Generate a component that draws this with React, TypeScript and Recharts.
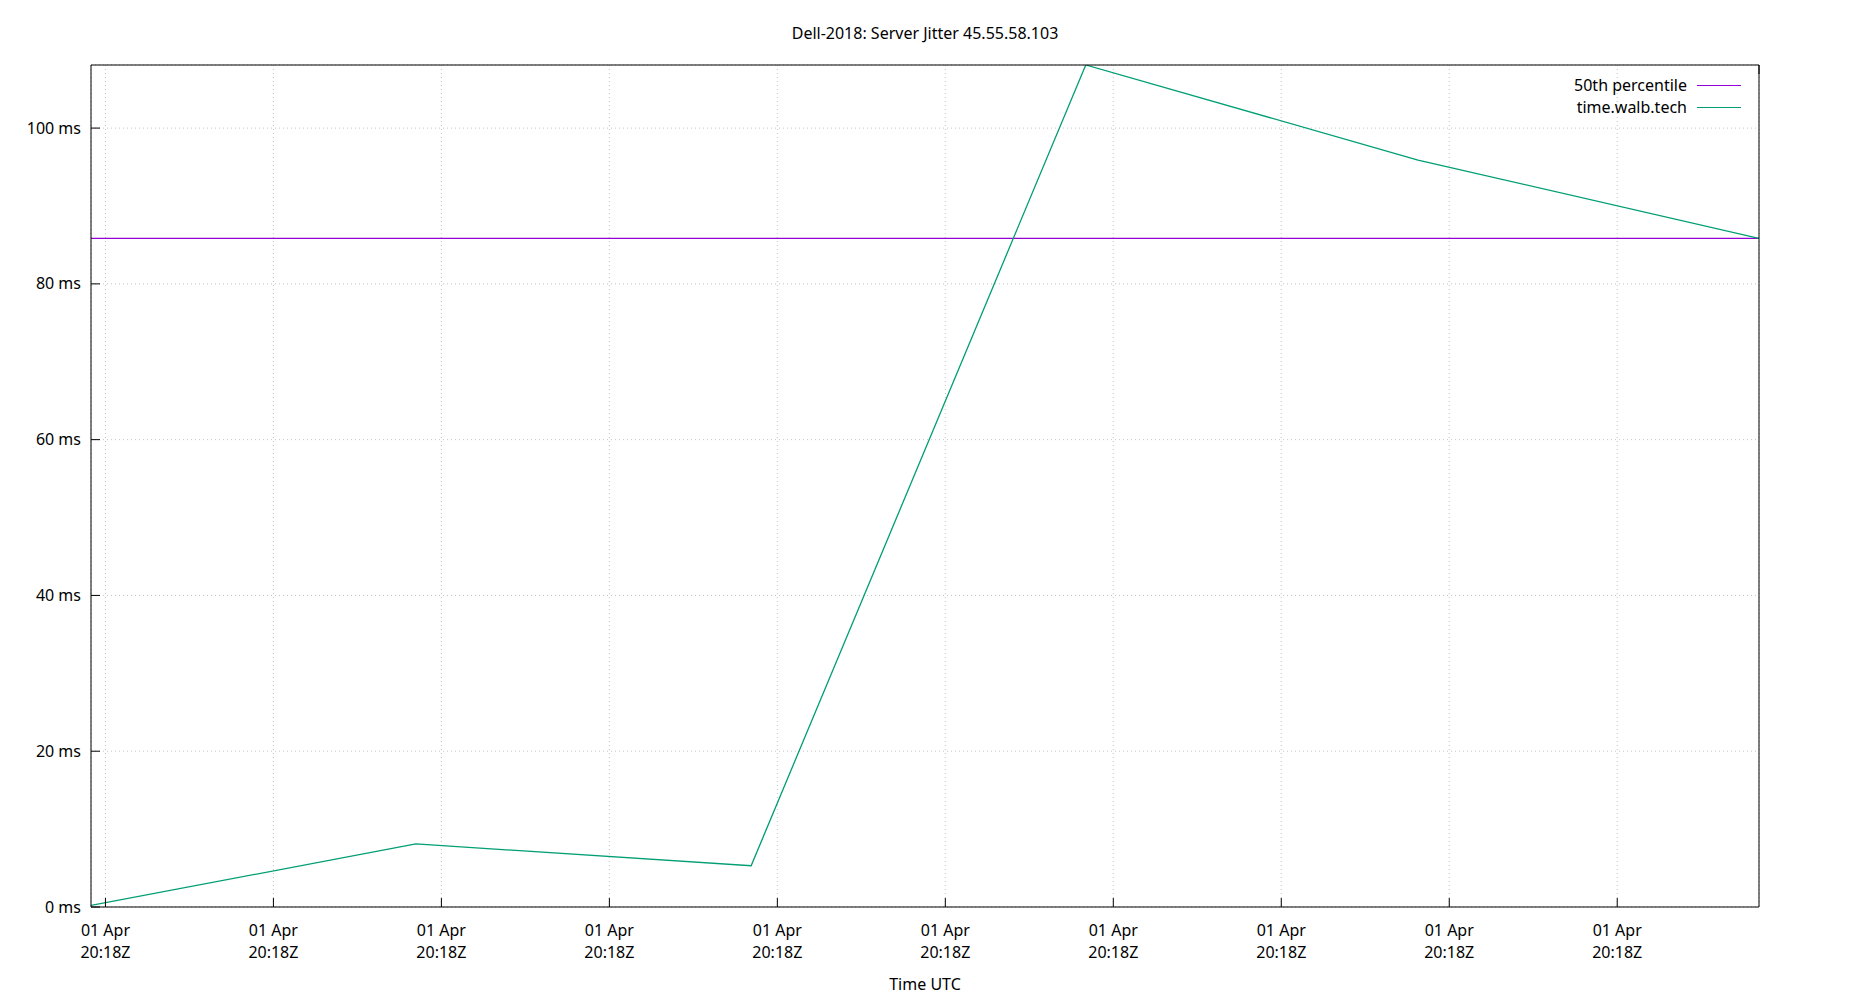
import { CartesianGrid, Line, LineChart, XAxis, YAxis } from 'recharts'

// seconds after 20:18:00Z on 01 Apr
const times = [4.57, 14.24, 24.22, 34.18, 44.07, 54.22]
const jitter = [0.2, 8.1, 5.3, 108.1, 95.9, 85.85]
const p50 = 85.85

const xTicks = [5, 10, 15, 20, 25, 30, 35, 40, 45, 50]
const yTicks = [0, 20, 40, 60, 80, 100]
const yMax = 108.1

const seriesNames = ['50th percentile', 'time.walb.tech']
const seriesColors = ['#9400d3', '#009e73']

const baseTime = Date.UTC(2019, 3, 1, 20, 18, 0)
const months = ['Jan', 'Feb', 'Mar', 'Apr', 'May', 'Jun', 'Jul', 'Aug', 'Sep', 'Oct', 'Nov', 'Dec']
const pad = (n: number) => String(n).padStart(2, '0')

const chartData = times.map((t, i) => ({ t, value: jitter[i], p50 }))
const xDomain = [times[0], times[times.length - 1]]

const font = '"Noto Sans", sans-serif'
const TICK = 9

function formatTime(s: number) {
  const d = new Date(baseTime + s * 1000)
  return [
    `${pad(d.getUTCDate())} ${months[d.getUTCMonth()]}`,
    `${pad(d.getUTCHours())}:${pad(d.getUTCMinutes())}Z`,
  ]
}

function BottomTick(props: any) {
  const { x, y, payload } = props
  const [day, clock] = formatTime(payload.value)
  return (
    <g>
      <line x1={x} x2={x} y1={y} y2={y - TICK} stroke='#000' />
      <text x={x} y={y + 29} textAnchor='middle' fontSize={16} fontFamily={font} fill='#000'>
        {day}
      </text>
      <text x={x} y={y + 51} textAnchor='middle' fontSize={16} fontFamily={font} fill='#000'>
        {clock}
      </text>
    </g>
  )
}

function TopTick(props: any) {
  const { x, y } = props
  return <line x1={x} x2={x} y1={y} y2={y + TICK} stroke='#000' />
}

function LeftTick(props: any) {
  const { x, y, payload } = props
  return (
    <g>
      <line x1={x} x2={x + TICK} y1={y} y2={y} stroke='#000' />
      <text x={x - 10} y={y + 5.5} textAnchor='end' fontSize={16} fontFamily={font} fill='#000'>
        {`${payload.value} ms`}
      </text>
    </g>
  )
}

export default function App() {
  return (
    <div style={{ position: 'absolute', left: 0, top: 0, width: 1850, height: 1000, fontFamily: font, color: '#000' }}>
      <div style={{ position: 'absolute', left: 0, top: 22, width: 1850, lineHeight: '22px', fontSize: 16, textAlign: 'center' }}>
        Dell-2018: Server Jitter 45.55.58.103
      </div>
      <LineChart width={1850} height={1000} data={chartData} margin={{ top: 64, right: 90, bottom: 0, left: 0 }}>
        <CartesianGrid stroke='#c4c4c4' strokeDasharray='1 3' />
        <XAxis
          dataKey='t'
          type='number'
          domain={xDomain}
          ticks={xTicks}
          interval={0}
          height={93}
          tickSize={0}
          tickMargin={0}
          tickLine={false}
          tick={BottomTick}
          axisLine={{ stroke: '#000' }}
          allowDataOverflow
        />
        <XAxis
          xAxisId='top'
          orientation='top'
          type='number'
          domain={xDomain}
          ticks={xTicks}
          interval={0}
          height={1}
          tickSize={0}
          tickMargin={0}
          tickLine={false}
          tick={TopTick}
          axisLine={{ stroke: '#000' }}
          allowDataOverflow
        />
        <YAxis
          type='number'
          domain={[0, yMax]}
          ticks={yTicks}
          interval={0}
          width={91}
          tickSize={0}
          tickMargin={0}
          tickLine={false}
          tick={LeftTick}
          axisLine={{ stroke: '#000' }}
          allowDataOverflow
        />
        <YAxis
          yAxisId='right'
          orientation='right'
          type='number'
          domain={[0, yMax]}
          ticks={yTicks}
          width={1}
          tick={false}
          tickLine={false}
          axisLine={{ stroke: '#000' }}
          allowDataOverflow
        />
        <Line
          type='linear'
          dataKey='p50'
          name={seriesNames[0]}
          stroke={seriesColors[0]}
          strokeWidth={1.3}
          dot={false}
          isAnimationActive={false}
        />
        <Line
          type='linear'
          dataKey='value'
          name={seriesNames[1]}
          stroke={seriesColors[1]}
          strokeWidth={1.3}
          dot={false}
          isAnimationActive={false}
        />
      </LineChart>
      <div style={{ position: 'absolute', left: 1450, top: 74, width: 291 }}>
        {seriesNames.map((name, i) => (
          <div key={name} style={{ display: 'flex', alignItems: 'center', justifyContent: 'flex-end', height: 22, fontSize: 16 }}>
            <span style={{ lineHeight: '22px' }}>{name}</span>
            <span style={{ display: 'inline-block', width: 44, marginLeft: 10, borderTop: `1.3px solid ${seriesColors[i]}` }} />
          </div>
        ))}
      </div>
      <div style={{ position: 'absolute', left: 0, top: 973, width: 1850, lineHeight: '22px', fontSize: 16, textAlign: 'center' }}>
        Time UTC
      </div>
    </div>
  )
}
